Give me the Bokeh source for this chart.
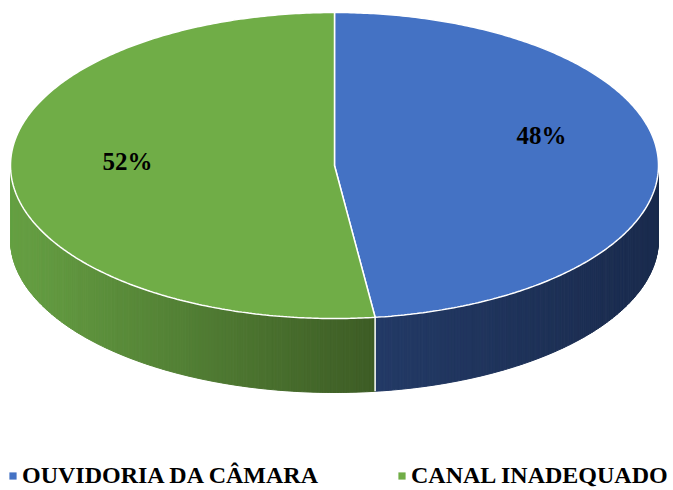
import numpy as np
from bokeh.plotting import figure
from bokeh.models import Range1d, Legend, LegendItem, ColumnDataSource
from bokeh.core.properties import value
from bokeh.embed import file_html
from bokeh.resources import INLINE

# ---- data ----
categories = ["OUVIDORIA DA CÂMARA", "CANAL INADEQUADO"]
shares = [48, 52]
pct_labels = ["48%", "52%"]

# ---- styles ----
top_colors = ["#4472C4", "#70AD47"]
side_from = ["#233A66", "#66A043"]   # gradient start (left) of side wall
side_to = ["#1A2B4D", "#3D5C25"]     # gradient end (right) of side wall

W, H = 673, 490
p = figure(width=W, height=H, output_backend="svg", toolbar_location=None,
           x_range=Range1d(0, W), y_range=Range1d(H, 0),
           min_border=0, outline_line_color=None)
p.axis.visible = False
p.grid.visible = False
p.background_fill_color = "white"
p.border_fill_color = "white"

cx, cy, a, b, depth = 334.0, 165.0, 324.0, 153.0, 74.0


def ept(t):
    return cx + a * np.cos(t), cy + b * np.sin(t)


def hex2rgb(h):
    h = h.lstrip("#")
    return np.array([int(h[i:i + 2], 16) for i in (0, 2, 4)], float)


def rgb2hex(c):
    return "#%02x%02x%02x" % tuple(int(round(v)) for v in c)


total = float(sum(shares))
bounds = []
start = -np.pi / 2
for s in shares:
    end = start + 2 * np.pi * s / total
    bounds.append((start, end))
    start = end

# ---- side walls (front half: theta in [0, pi]) ----
sx, sy, sc = [], [], []
for i, (t0, t1) in enumerate(bounds):
    for k in (-1, 0, 1):
        lo = max(t0, 0 + 2 * np.pi * k)
        hi = min(t1, np.pi + 2 * np.pi * k)
        if hi <= lo:
            continue
        n = max(2, int((hi - lo) / 0.01))
        ts = np.linspace(lo, hi, n + 1)
        xs_all, _ = ept(ts)
        xmin, xmax = xs_all.min(), xs_all.max()
        c0, c1 = hex2rgb(side_from[i]), hex2rgb(side_to[i])
        for j in range(n):
            ta, tb = ts[j], ts[j + 1]
            xa, ya = ept(ta)
            xb, yb = ept(tb)
            xm = (xa + xb) / 2
            f = (xm - xmin) / (xmax - xmin) if xmax > xmin else 0
            sx.append([xa, xb, xb, xa])
            sy.append([ya, yb, yb + depth, ya + depth])
            sc.append(rgb2hex(c0 + (c1 - c0) * f))
p.patches(xs="xs", ys="ys", fill_color="c", line_color="c", line_width=1,
          source=ColumnDataSource(dict(xs=sx, ys=sy, c=sc)))

# ---- top slices ----
tx, ty = [], []
for (t0, t1) in bounds:
    ts = np.linspace(t0, t1, 300)
    ex, ey = ept(ts)
    tx.append([cx] + list(ex))
    ty.append([cy] + list(ey))
p.patches(xs="xs", ys="ys", fill_color="c", line_color="white", line_width=1.5,
          source=ColumnDataSource(dict(xs=tx, ys=ty, c=top_colors)))

# ---- white divider lines on the side wall ----
for (t0, t1) in bounds:
    tt = t0 % (2 * np.pi)
    if 0 < tt < np.pi:
        x0, y0 = ept(tt)
        p.line([x0, x0], [y0, y0 + depth], line_color="white", line_width=1.5)

# ---- percentage labels ----
lx, ly = [], []
for (t0, t1) in bounds:
    m = (t0 + t1) / 2
    x0, y0 = ept(m)
    lx.append(cx + 0.64 * (x0 - cx))
    ly.append(cy - 17 + 1.35 * (y0 - cy))
p.text(x=lx, y=ly, text=pct_labels, text_align="center", text_baseline="middle",
       text_font=value("Liberation Serif"), text_font_style="bold",
       text_font_size="25px", text_color="black")

# ---- legend ----
items = []
for i, name in enumerate(categories):
    r = p.quad(left=[np.nan], right=[np.nan], top=[np.nan], bottom=[np.nan],
               fill_color=top_colors[i], line_color=None)
    items.append(LegendItem(label=name, renderers=[r]))
legend = Legend(items=items, orientation="horizontal", location=(8, 1),
                glyph_width=9, glyph_height=9, label_standoff=5, spacing=79,
                padding=0, margin=0, border_line_alpha=0, background_fill_alpha=0,
                label_text_font="Liberation Serif", label_text_font_style="bold",
                label_text_font_size="24px", label_text_color="black")
p.add_layout(legend, "center")

open("out.html", "w").write(file_html(p, INLINE))
